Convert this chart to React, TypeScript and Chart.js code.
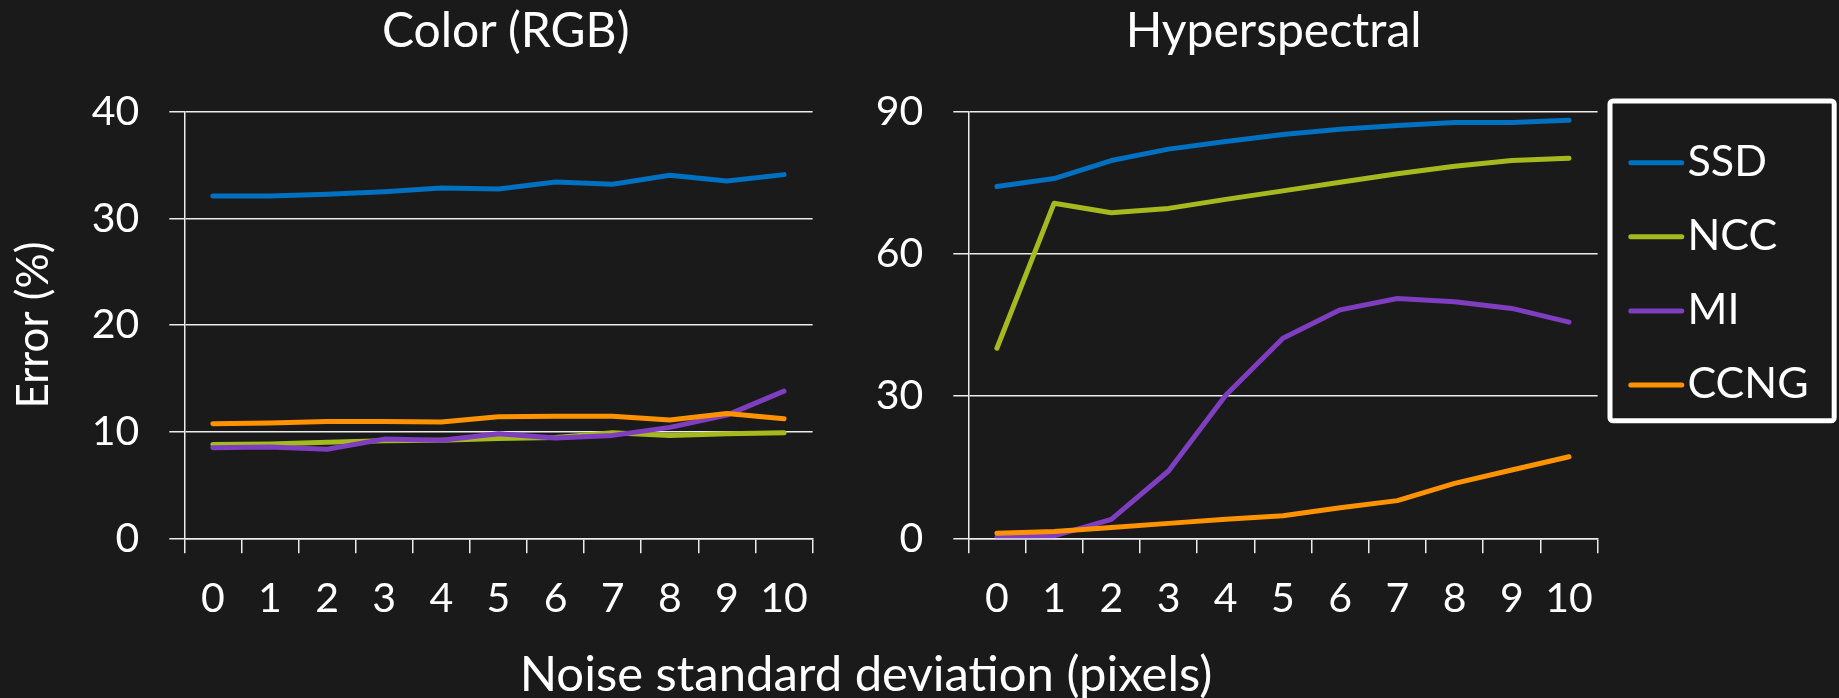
import React, { useEffect, useRef } from "react";
import { Chart, registerables } from "chart.js";

Chart.register(...registerables);

// ---------- data ----------
const noiseLevels = ["0", "1", "2", "3", "4", "5", "6", "7", "8", "9", "10"];
const seriesNames = ["SSD", "NCC", "MI", "CCNG"];

const rgbSSD = [32.1, 32.1, 32.25, 32.5, 32.85, 32.75, 33.4, 33.2, 34.05, 33.5, 34.1];
const rgbNCC = [8.8, 8.85, 9.0, 9.15, 9.2, 9.35, 9.45, 9.9, 9.65, 9.8, 9.9];
const rgbMI = [8.5, 8.55, 8.35, 9.3, 9.2, 9.8, 9.4, 9.65, 10.4, 11.55, 13.8];
const rgbCCNG = [10.75, 10.8, 10.95, 10.95, 10.9, 11.4, 11.45, 11.45, 11.1, 11.7, 11.2];

const hsSSD = [74.2, 75.9, 79.7, 82.1, 83.7, 85.2, 86.3, 87.1, 87.7, 87.7, 88.2];
const hsNCC = [40.1, 70.7, 68.7, 69.6, 71.5, 73.3, 75.1, 76.9, 78.5, 79.7, 80.2];
const hsMI = [0.3, 0.5, 4.0, 14.2, 30.2, 42.2, 48.2, 50.6, 49.9, 48.5, 45.6];
const hsCCNG = [1.05, 1.45, 2.3, 3.15, 4.0, 4.75, 6.45, 7.95, 11.6, 14.4, 17.2];

const rgbTicks = [0, 10, 20, 30, 40];
const hsTicks = [0, 30, 60, 90];

const titles = ["Color (RGB)", "Hyperspectral"];
const yAxisTitle = "Error (%)";
const xAxisTitle = "Noise standard deviation (pixels)";

// ---------- styles ----------
const FONT = "Lato";
const BG = "#1a1a1a";
const FG = "#ffffff";
const GRID = "#ececec";
const seriesColors = ["#0070c0", "#a6b91f", "#7f3dbf", "#ff9200"];
const drawOrder = [4, 3, 2, 1];

function buildDatasets(values: number[][]) {
  return values.map((v, i) => ({
    label: seriesNames[i],
    data: v,
    borderColor: seriesColors[i],
    backgroundColor: seriesColors[i],
    borderWidth: 5,
    pointRadius: 0,
    tension: 0,
    fill: false,
    borderCapStyle: "round",
    borderJoinStyle: "round",
    order: drawOrder[i],
  }));
}

function makeLegendPlugin(g: any) {
  return {
    id: "boxedLegend",
    afterDraw(chart: any) {
      const ctx = chart.ctx;
      ctx.save();
      ctx.strokeStyle = FG;
      ctx.lineWidth = g.borderWidth;
      ctx.beginPath();
      if (ctx.roundRect) ctx.roundRect(g.x, g.y, g.w, g.h, 3);
      else ctx.rect(g.x, g.y, g.w, g.h);
      ctx.stroke();
      chart.data.datasets.forEach((ds: any, i: number) => {
        const y = g.firstY + i * g.rowGap;
        ctx.strokeStyle = ds.borderColor;
        ctx.lineWidth = 5;
        ctx.lineCap = "round";
        ctx.beginPath();
        ctx.moveTo(g.lineX0, y);
        ctx.lineTo(g.lineX1, y);
        ctx.stroke();
        ctx.fillStyle = FG;
        ctx.font = `${g.fontSize}px ${FONT}`;
        ctx.textBaseline = "middle";
        ctx.textAlign = "left";
        ctx.fillText(ds.label, g.textX, y - 1);
      });
      ctx.restore();
    },
  };
}

type PanelProps = {
  left: number;
  width: number;
  height: number;
  values: number[][];
  ticks: number[];
  yWidth: number;
  padRight: number;
  showYTitle: boolean;
  legend?: any;
};

function Panel(p: PanelProps) {
  const ref = useRef<HTMLCanvasElement | null>(null);
  useEffect(() => {
    if (!ref.current) return;
    const plugins: any[] = [];
    if (p.legend) plugins.push(makeLegendPlugin(p.legend));
    const chart = new Chart(ref.current, {
      type: "line",
      data: { labels: noiseLevels, datasets: buildDatasets(p.values) as any },
      plugins,
      options: {
        animation: false,
        responsive: false,
        maintainAspectRatio: false,
        devicePixelRatio: 1,
        layout: { padding: { left: 0, top: 111.7, right: p.padRight, bottom: 0 } },
        plugins: {
          legend: { display: false },
          title: { display: false },
          tooltip: { enabled: false },
        },
        scales: {
          x: {
            type: "category",
            offset: true,
            grid: {
              offset: true,
              drawOnChartArea: false,
              drawTicks: true,
              tickLength: 15,
              color: GRID,
              lineWidth: 1.5,
            },
            border: { display: true, color: GRID, width: 1.5 },
            ticks: {
              color: FG,
              font: { family: FONT, size: 41 },
              padding: 21,
              maxRotation: 0,
              autoSkip: false,
            },
            afterFit: (s: any) => {
              s.height = p.height - 538.3;
            },
          },
          y: {
            min: p.ticks[0],
            max: p.ticks[p.ticks.length - 1],
            ticks: {
              stepSize: p.ticks[1] - p.ticks[0],
              color: FG,
              font: { family: FONT, size: 41 },
              padding: 30,
            },
            grid: { color: GRID, lineWidth: 1.5, tickLength: 15 },
            border: { display: true, color: GRID, width: 1.5 },
            title: {
              display: p.showYTitle,
              text: yAxisTitle,
              color: FG,
              font: { family: FONT, size: 44 },
              padding: { top: 7, bottom: 7 },
            },
            afterFit: (s: any) => {
              s.width = p.yWidth;
            },
          },
        },
      } as any,
    });
    return () => chart.destroy();
  }, []);
  return (
    <canvas
      ref={ref}
      width={p.width}
      height={p.height}
      style={{ position: "absolute", left: p.left, top: 0, width: p.width, height: p.height }}
    />
  );
}

const titleStyle = (cx: number, top: number, size: number): React.CSSProperties => ({
  position: "absolute",
  left: cx - 400,
  width: 800,
  top,
  textAlign: "center",
  fontFamily: FONT,
  fontSize: size,
  lineHeight: `${size}px`,
  color: FG,
  whiteSpace: "nowrap",
});

export default function App() {
  return (
    <div
      style={{
        position: "absolute",
        left: 0,
        top: 0,
        width: 1839,
        height: 698,
        background: BG,
        overflow: "hidden",
      }}
    >
      <Panel
        left={0}
        width={830}
        height={640}
        values={[rgbSSD, rgbNCC, rgbMI, rgbCCNG]}
        ticks={rgbTicks}
        yWidth={184.3}
        padRight={17.4}
        showYTitle={true}
      />
      <Panel
        left={830}
        width={1009}
        height={640}
        values={[hsSSD, hsNCC, hsMI, hsCCNG]}
        ticks={hsTicks}
        yWidth={138.3}
        padRight={241.4}
        showYTitle={false}
        legend={{
          x: 780,
          y: 101,
          w: 224.2,
          h: 319.8,
          borderWidth: 5,
          firstY: 162.7,
          rowGap: 74.1,
          lineX0: 800.8,
          lineX1: 851.8,
          textX: 857.5,
          fontSize: 43,
        }}
      />
      <div style={titleStyle(505.7, 4.7, 48)}>{titles[0]}</div>
      <div style={titleStyle(1273.7, 4.7, 48)}>{titles[1]}</div>
      <div style={titleStyle(866, 647.5, 49)}>{xAxisTitle}</div>
    </div>
  );
}
